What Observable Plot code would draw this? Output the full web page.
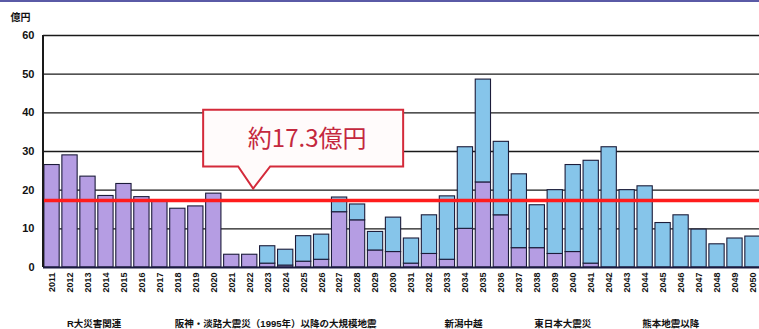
<!DOCTYPE html>
<html>
<head>
<meta charset="utf-8">
<script src="https://cdn.jsdelivr.net/npm/d3@7"></script>
<script src="https://cdn.jsdelivr.net/npm/@observablehq/plot@0.6"></script>
<style>
  html, body { margin: 0; padding: 0; background: #fff; width: 759px; height: 329px; overflow: hidden; }
  #chart { position: absolute; left: 0; top: 0; }
  #topline { position: absolute; left: 0; top: 0; width: 759px; height: 2px; background: #5a5aa6; }
  svg text { font-family: "Liberation Sans", "Noto Sans CJK JP", sans-serif; }
</style>
</head>
<body>
<div id="chart"></div>
<div id="topline"></div>
<script>
// Bar labels along the x axis
const years = [
  "2011","2012","2013","2014","2015","2016","2017","2018","2019","2020",
  "2021","2022","2023","2024","2025","2026","2027","2028","2029","2030",
  "2031","2032","2033","2034","2035","2036","2037","2038","2039","2040",
  "2041","2042","2043","2044","2045","2046","2047","2048","2049","2050"
];
// Lower part of each bar, 億円
const lowerPart = [
  26.5, 29.0, 23.5, 18.5, 21.6, 18.2, 17.4, 15.2, 15.8, 19.1,
   3.3,  3.3,  1.0,  0.5,  1.5,  2.0, 14.3, 12.2,  4.4,  4.0,
   1.0,  3.5,  2.0, 10.0, 22.0, 13.5,  5.0,  5.0,  3.5,  4.0,
   1.0,  0,    0,    0,    0,    0,    0,    0,    0,    0
];
// Upper part of each bar, 億円
const upperPart = [
   0,    0,    0,    0,    0,    0,    0,    0,    0,    0,
   0,    0,    4.5,  4.1,  6.6,  6.5,  3.8,  4.1,  4.8,  8.9,
   6.5, 10.0, 16.4, 21.1, 26.6, 19.0, 19.1, 11.1, 16.5, 22.5,
  26.6, 31.1, 20.0, 21.0, 11.5, 13.5,  9.8,  6.0,  7.5,  8.0
];
// Period captions under the axis and the bar each one starts at
const groupNames = ["R大災害関連", "阪神・淡路大震災（1995年）以降の大規模地震", "新潟中越", "東日本大震災", "熊本地震以降"];
const groupStart = ["2012", "2018", "2033", "2038", "2044"];
// Average over the whole period
const average = 17.3;
const averageLabel = "約17.3億円";
const yTicks = [0, 10, 20, 30, 40, 50, 60];

const rows = years.flatMap((year, i) => [
  {year, part: "lower", value: lowerPart[i]},
  {year, part: "upper", value: upperPart[i]}
]).filter(d => d.value > 0);
const groups = groupNames.map((name, i) => ({name, at: groupStart[i]}));

const chart = Plot.plot({
  width: 762,
  height: 329,
  marginTop: 35,
  marginBottom: 62,
  marginLeft: 43,
  marginRight: 1,
  style: {background: "transparent", color: "#111", maxWidth: "none", overflow: "visible"},
  x: {domain: years, paddingInner: 0.15, paddingOuter: 0.05, label: null},
  y: {domain: [0, 60], label: null},
  color: {type: "ordinal", domain: ["lower", "upper"], range: ["#b59de3", "#86c5ea"]},
  marks: [
    Plot.ruleY(yTicks.filter(d => d > 0), {stroke: "#1a1a1a", strokeWidth: 1.4}),
    Plot.barY(rows, {x: "year", y: "value", fill: "part", stroke: "#1c1c3a", strokeWidth: 1.1}),
    Plot.ruleY([0], {stroke: "#1a1a40", strokeWidth: 2}),
    Plot.ruleY([average], {stroke: "#ff1c1c", strokeWidth: 3.5}),
    Plot.axisY({ticks: yTicks, tickSize: 0, tickPadding: 9, fontSize: 11, fontWeight: "bold", label: null}),
    Plot.axisX({tickRotate: -90, tickSize: 0, tickPadding: 5, fontSize: 9, fontWeight: "bold", label: null}),
    Plot.text(["億円"], {frameAnchor: "top-left", textAnchor: "start", lineAnchor: "top", dx: -33, dy: -22, fontSize: 10, fontWeight: "bold"}),
    Plot.text(groups, {x: "at", y: () => 0, text: "name", textAnchor: "start", dx: -3, dy: 56, fontSize: 9.5, fontWeight: "bold"})
  ]
});
chart.style.maxWidth = "none";
document.getElementById("chart").append(chart);

// Callout pointing at the average line
const xs = chart.scale("x");
const ys = chart.scale("y");
const cx = xs.apply("2025") + xs.bandwidth / 2;
const boxTop = ys.apply(40.7), boxBottom = ys.apply(26), tipY = ys.apply(20.3);
const boxLeft = cx - 100, boxRight = cx + 100;
const callout = d3.select(chart).append("g");
callout.append("path")
  .attr("d", `M${boxLeft},${boxTop}H${boxRight}V${boxBottom}H${cx - 33}L${cx - 50},${tipY}L${cx - 65},${boxBottom}H${boxLeft}Z`)
  .attr("fill", "#fffbfb")
  .attr("stroke", "#d42a3a")
  .attr("stroke-width", 2);
callout.append("text")
  .attr("x", cx + 4)
  .attr("y", (boxTop + boxBottom) / 2 - 2)
  .attr("text-anchor", "middle")
  .attr("dominant-baseline", "central")
  .attr("fill", "#c4283e")
  .style("font-family", "'Noto Sans CJK JP', sans-serif")
  .style("font-size", "24px")
  .text(averageLabel);

// Left axis line
d3.select(chart).append("line")
  .attr("x1", 43).attr("x2", 43)
  .attr("y1", ys.apply(60)).attr("y2", ys.apply(0))
  .attr("stroke", "#1a1a1a").attr("stroke-width", 2);
</script>
</body>
</html>
